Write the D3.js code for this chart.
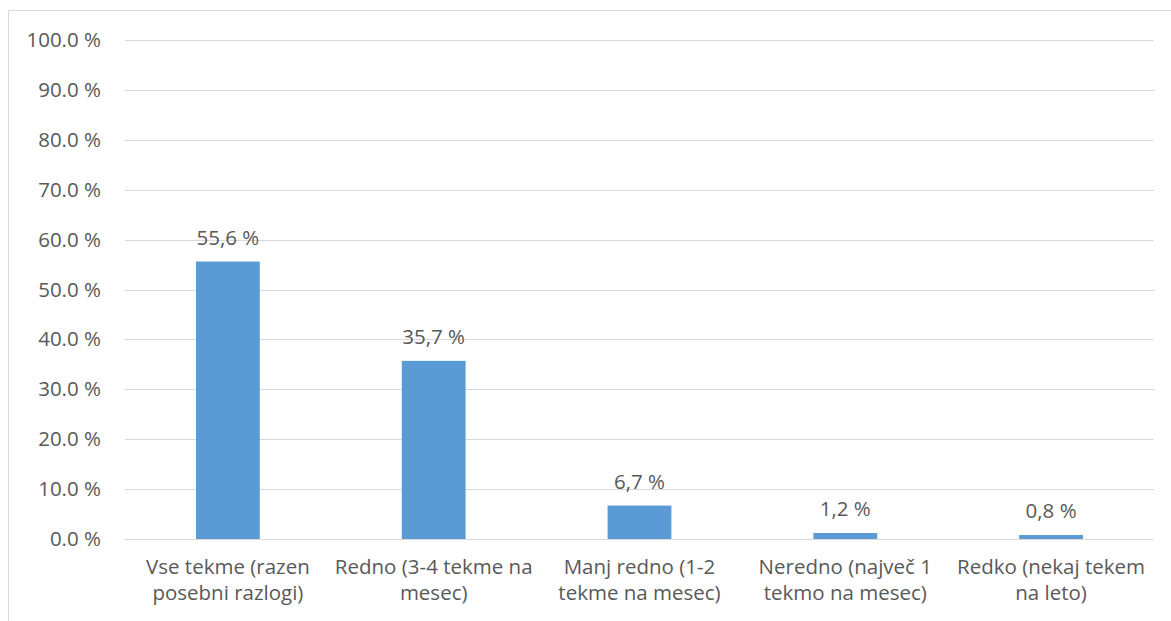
<!DOCTYPE html>
<html>
<meta charset="utf-8">
<head>
<style>
body { margin:0; padding:0; background:#fff; }
svg { display:block; }
text { font-family: "Open Sans", Lato, sans-serif; fill:#595959; }
</style>
</head>
<body>
<svg></svg>
<script src="https://d3js.org/d3.v7.min.js"></script>
<script>

var categories = [
  ["Vse tekme (razen", "posebni razlogi)"],
  ["Redno (3-4 tekme na", "mesec)"],
  ["Manj redno (1-2", "tekme na mesec)"],
  ["Neredno (največ 1", "tekmo na mesec)"],
  ["Redko (nekaj tekem", "na leto)"]
];
var values = [55.6, 35.7, 6.7, 1.2, 0.8];
var ticks = [0, 10, 20, 30, 40, 50, 60, 70, 80, 90, 100];

var width = 1171, height = 621;
var svg = d3.select("svg").attr("width", width).attr("height", height);

// outer frame (only left + top show in the crop)
svg.append("path")
  .attr("d", "M8.5," + height + "V10.5H" + width)
  .attr("fill", "none")
  .attr("stroke", "#d9d9d9")
  .attr("stroke-width", 1);

var x = d3.scaleBand()
  .domain(d3.range(categories.length))
  .range([125, 1154])
  .paddingInner(0.69)
  .paddingOuter(0.345);

var y = d3.scaleLinear().domain([0, 100]).range([539, 40]);

var fs = "20.5px";

// gridlines
svg.append("g").selectAll("line")
  .data(ticks)
  .enter().append("line")
    .attr("x1", 125).attr("x2", 1154)
    .attr("y1", function(d) { return Math.round(y(d)) + 0.5; })
    .attr("y2", function(d) { return Math.round(y(d)) + 0.5; })
    .attr("stroke", "#d9d9d9")
    .attr("stroke-width", 1);

// y labels
svg.append("g").selectAll("text")
  .data(ticks)
  .enter().append("text")
    .attr("x", 101)
    .attr("y", function(d) { return y(d) + 7; })
    .attr("text-anchor", "end")
    .style("font-size", fs)
    .text(function(d) { return d.toFixed(1) + " %"; });

// bars
svg.append("g").selectAll("rect")
  .data(values)
  .enter().append("rect")
    .attr("x", function(d, i) { return x(i); })
    .attr("width", x.bandwidth())
    .attr("y", function(d) { return y(d); })
    .attr("height", function(d) { return y(0) - y(d); })
    .attr("fill", "#5b9bd5");

// value labels
svg.append("g").selectAll("text")
  .data(values)
  .enter().append("text")
    .attr("x", function(d, i) { return x(i) + x.bandwidth() / 2; })
    .attr("y", function(d) { return y(d) - 17; })
    .attr("text-anchor", "middle")
    .style("font-size", fs)
    .text(function(d) { return d.toFixed(1).replace(".", ",") + " %"; });

// category labels
var cat = svg.append("g").selectAll("text")
  .data(categories)
  .enter().append("text")
    .attr("text-anchor", "middle")
    .style("font-size", fs);
cat.each(function(lines, i) {
  var t = d3.select(this);
  lines.forEach(function(l, j) {
    t.append("tspan")
      .attr("x", x(i) + x.bandwidth() / 2)
      .attr("y", 574 + j * 26)
      .text(l);
  });
});

</script>
</body>
</html>
